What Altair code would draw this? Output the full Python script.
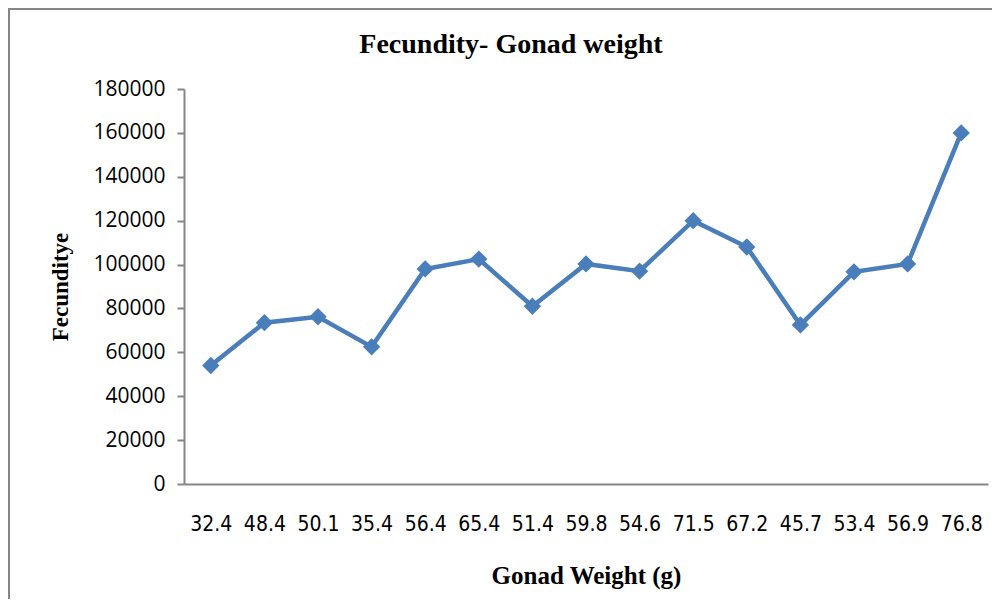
import altair as alt
import pandas as pd

gonad_weight = ["32.4", "48.4", "50.1", "35.4", "56.4", "65.4", "51.4", "59.8",
                "54.6", "71.5", "67.2", "45.7", "53.4", "56.9", "76.8"]
fecundity = [54000, 73500, 76200, 62500, 98000, 102500, 81000, 100300,
             97000, 120000, 108000, 72500, 96700, 100300, 160000]
y_ticks = [0, 20000, 40000, 60000, 80000, 100000, 120000, 140000, 160000, 180000]

df = pd.DataFrame({"gw": gonad_weight, "fec": fecundity})

W, H = 804, 395
BLUE = "#4A7EBB"
GRAY = "#868686"

x_enc = alt.X("gw:N", sort=None, scale=alt.Scale(type="point", padding=0.5),
              axis=alt.Axis(title="Gonad Weight (g)", labelAngle=0, ticks=False,
                            labelFont="DejaVu Sans Condensed, Liberation Sans", labelFontSize=21,
                            labelColor="#000000", labelBaseline="middle", labelPadding=40,
                            domainColor=GRAY, domainWidth=2,
                            titleFont="Liberation Serif", titleFontSize=25,
                            titleFontWeight="bold", titleColor="#000000",
                            titleX=W / 2, titleY=91, titleBaseline="middle",
                            titleAlign="center"))
y_enc = alt.Y("fec:Q", scale=alt.Scale(domain=[0, 180000], nice=False, zero=True),
              axis=alt.Axis(title="Fecunditye", values=y_ticks, format="d",
                            grid=False, tickSize=7, tickColor=GRAY, tickWidth=2,
                            domainColor=GRAY, domainWidth=2,
                            labelFont="Open Sans", labelFontSize=21,
                            labelColor="#000000", labelPadding=12,
                            titleFont="Liberation Serif", titleFontSize=23,
                            titleFontWeight="bold", titleColor="#000000",
                            titleAngle=-90, titleX=-124, titleY=H / 2,
                            titleBaseline="middle", titleAlign="center"))

line = alt.Chart(df).mark_line(color=BLUE, strokeWidth=4.5).encode(x=x_enc, y=y_enc)
pts = alt.Chart(df).mark_point(shape="diamond", filled=True, size=300,
                               color=BLUE, opacity=1).encode(x=x_enc, y=y_enc)

frame = alt.Chart(df).mark_rect(fill=None, stroke=GRAY, strokeWidth=2, clip=False).encode(
    x=alt.value(-175), x2=alt.value(840), y=alt.value(-80), y2=alt.value(540))

chart = alt.layer(frame, line, pts).properties(
    width=W, height=H,
    title=alt.TitleParams("Fecundity- Gonad weight", font="Liberation Serif",
                          fontSize=28, fontWeight="bold", color="#000000",
                          anchor="middle", dx=-75, offset=-79, baseline="bottom"),
    autosize=alt.AutoSizeParams(type="none"),
    padding={"left": 176, "top": 81, "right": 4, "bottom": 115},
).configure_view(stroke=None)

chart.save("out.html", embed_options={"renderer": "svg", "actions": False})
